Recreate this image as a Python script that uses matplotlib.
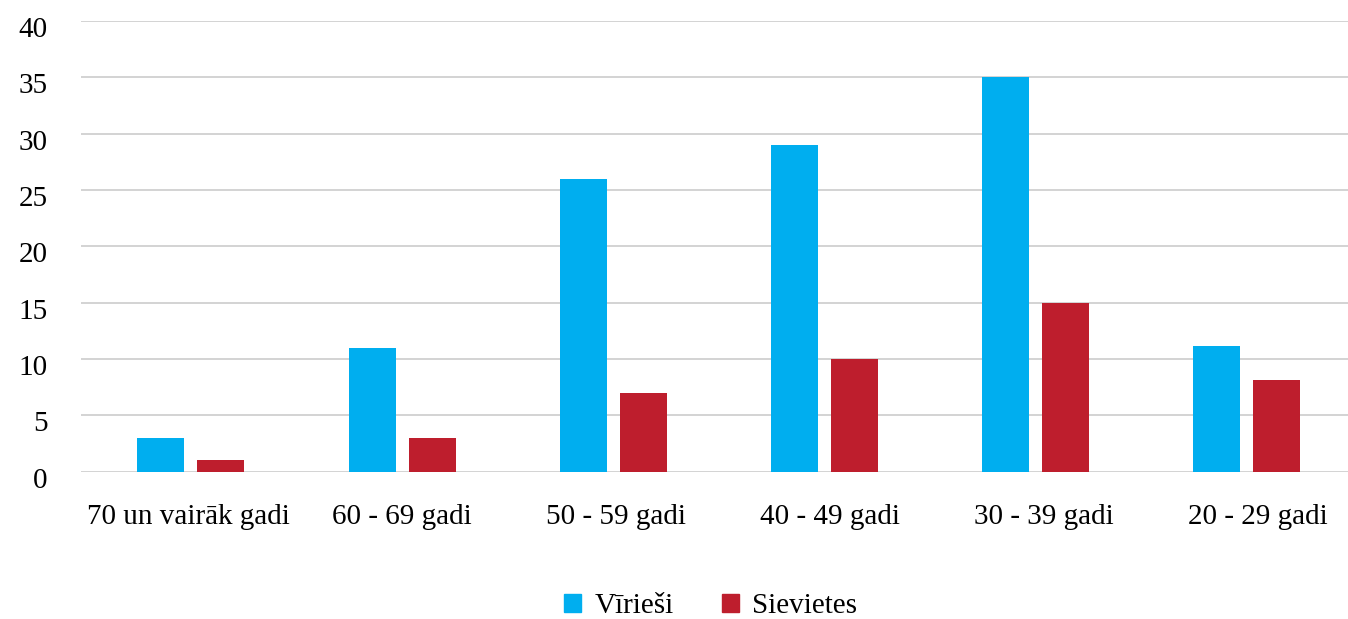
import numpy as np
import matplotlib.pyplot as plt
import matplotlib.transforms as mtransforms
from matplotlib.patches import Patch

plt.rcParams['font.family'] = ['Liberation Serif', 'DejaVu Serif']

categories = ['70 un vairāk gadi', '60 - 69 gadi', '50 - 59 gadi',
              '40 - 49 gadi', '30 - 39 gadi', '20 - 29 gadi']
virieshi = [3, 11, 26, 29, 35, 11.2]
sievietes = [1, 3, 7, 10, 15, 8.1]

blue = '#00AEEF'
red = '#BE1E2D'

fig = plt.figure(figsize=(13.48, 6.19), dpi=100)
ax = fig.add_axes([0.060, 0.238, 0.94, 0.728])

x = np.arange(len(categories))
w = 0.223
off = 0.142
ax.bar(x - off, virieshi, width=w, color=blue, zorder=3)
ax.bar(x + off, sievietes, width=w, color=red, zorder=3)

ax.set_xlim(-0.521, len(categories) - 0.521)
ax.set_ylim(0, 40)
ax.set_yticks(np.arange(0, 41, 5))
ax.yaxis.grid(True, color='#d0d0d0', linewidth=1.3, zorder=0)
ax.set_axisbelow(True)
for s in ax.spines.values():
    s.set_visible(False)
ax.tick_params(axis='both', length=0, labelsize=21)
ax.tick_params(axis='y', pad=24)
ax.tick_params(axis='x', pad=23)
# labels in the original sit a little off the bar groups
ax.set_xticks(x - 0.012 + 0.013 * x)
ax.set_xticklabels(categories)
shift = mtransforms.ScaledTranslation(0, -6 / 100, fig.dpi_scale_trans)
for t in ax.get_yticklabels():
    t.set_horizontalalignment('right')
    t.set_transform(t.get_transform() + shift)

handles = [Patch(color=blue, label='Vīrieši'), Patch(color=red, label='Sievietes')]
fig.legend(handles=handles, loc='center', bbox_to_anchor=(0.527, 0.021),
           ncol=2, frameon=False, fontsize=21, handlelength=0.58, handleheight=0.58,
           handletextpad=0.45, columnspacing=1.65, borderpad=0.2)

fig.savefig('out.png', dpi=100, facecolor='white')
